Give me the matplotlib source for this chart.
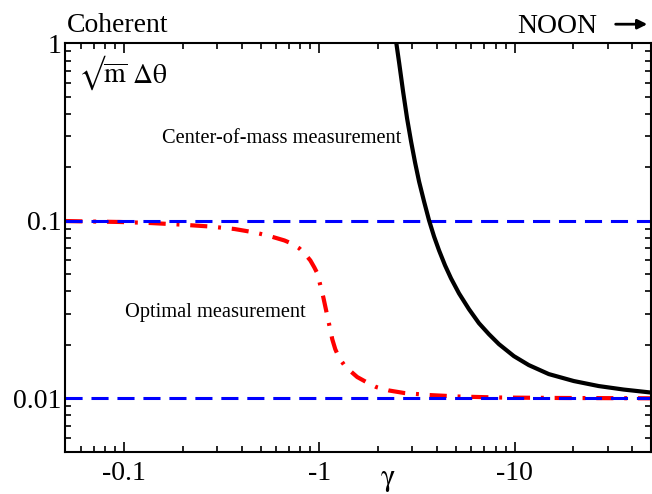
import matplotlib
matplotlib.use("Agg")
import matplotlib.pyplot as plt
from matplotlib.ticker import LogLocator, FixedLocator, FixedFormatter, NullFormatter

plt.rcParams["font.family"] = ["Liberation Serif", "DejaVu Serif"]
plt.rcParams["mathtext.fontset"] = "stix"

# -gamma on the x axis (log), sqrt(m) dtheta on the y axis (log)
com_gamma = [2.446, 2.475, 2.564, 2.687, 2.817, 2.952, 3.094, 3.243, 3.440, 3.649,
             3.869, 4.104, 4.404, 4.726, 5.193, 5.842, 6.571, 7.391, 8.315, 9.918,
             11.83, 14.97, 20.09, 26.97, 36.19, 49.73]
com_val = [1.113, 1.017, 0.775, 0.5325, 0.3756, 0.2790, 0.2126, 0.1663, 0.1283, 0.1004,
           0.0816, 0.0681, 0.0561, 0.0474, 0.0390, 0.03176, 0.02649, 0.02297, 0.02019, 0.01728,
           0.01538, 0.01369, 0.01251, 0.01172, 0.01120, 0.01078]

opt_gamma = [0.05, 0.0668, 0.0951, 0.1353, 0.1926, 0.2741, 0.3678, 0.4655, 0.5554, 0.6625,
             0.7193, 0.7903, 0.8480, 0.8995, 0.9429, 0.9767, 1.012, 1.048, 1.086, 1.125,
             1.165, 1.207, 1.265, 1.342, 1.423, 1.564, 1.739, 1.956, 2.279, 2.719,
             3.649, 5.193, 8.315, 16.84, 50.0]
opt_val = [0.0997, 0.0991, 0.0985, 0.0972, 0.0953, 0.0929, 0.0899, 0.0860, 0.0821, 0.0775,
           0.0746, 0.0699, 0.0647, 0.0598, 0.0546, 0.0506, 0.0433, 0.0371, 0.0309, 0.0258,
           0.0215, 0.0189, 0.01684, 0.01538, 0.01442, 0.01317, 0.01235, 0.01157, 0.01106, 0.01071,
           0.01043, 0.01023, 0.01010, 0.01004, 0.0100]

limits = [0.1, 0.01]  # coherent / NOON levels

x_ticks = [0.1, 1, 10]
x_labels = ["-0.1", "-1", "-10"]
y_ticks = [0.01, 0.1, 1]
y_labels = ["0.01", "0.1", "1"]

fig = plt.figure(figsize=(6.52, 4.94), dpi=100)
ax = fig.add_axes([0.1002, 0.0856, 0.8983, 0.8267])

ax.plot(opt_gamma, opt_val, color="red", lw=3.0, linestyle=(0, (4.1, 2.6, 0.7, 2.6)))
for lv in limits:
    ax.axhline(lv, color="blue", lw=2.2, linestyle=(0, (5.6, 2.9)))
ax.plot(com_gamma, com_val, color="black", lw=3.0, solid_joinstyle="round")

ax.set_xscale("log")
ax.set_yscale("log")
ax.set_xlim(0.05, 50)
ax.set_ylim(0.005, 1)

ax.xaxis.set_major_locator(FixedLocator(x_ticks))
ax.xaxis.set_major_formatter(FixedFormatter(x_labels))
ax.yaxis.set_major_locator(FixedLocator(y_ticks))
ax.yaxis.set_major_formatter(FixedFormatter(y_labels))
for a in (ax.xaxis, ax.yaxis):
    a.set_minor_locator(LogLocator(base=10, subs=range(2, 10), numticks=20))
    a.set_minor_formatter(NullFormatter())

ax.tick_params(which="both", direction="in", top=True, right=True, labelsize=20, width=1.2)
ax.tick_params(which="major", length=7.5)
ax.tick_params(axis="x", which="major", pad=7)
ax.tick_params(axis="y", which="major", pad=3)
ax.tick_params(which="minor", length=4)
for s in ax.spines.values():
    s.set_linewidth(1.5)

ax.text(0.0217, 0.9035, "$\u221a\\overline{\\mathrm{m}}\\ \\Delta\\mathrm{\\theta}$",
        transform=ax.transAxes, fontsize=20, va="baseline")
ax.text(0.165, 0.756, "Center-of-mass measurement", transform=ax.transAxes,
        fontsize=14.7, va="baseline")
ax.text(0.102, 0.330, "Optimal measurement", transform=ax.transAxes,
        fontsize=14.7, va="baseline")

fig.text(0.103, 0.935, "Coherent", fontsize=20, va="baseline")
fig.text(0.793, 0.933, "NOON", fontsize=20, va="baseline")
# arrow next to NOON
ax.annotate("", xy=(0.997, 0.951), xycoords="figure fraction",
            xytext=(0.940, 0.951), textcoords="figure fraction",
            arrowprops=dict(arrowstyle="-|>", color="black", lw=2, mutation_scale=14))
fig.text(388 / 652, 0.018, r"$\mathrm{\gamma}$", fontsize=22, ha="center", va="baseline")

fig.savefig("out.png", dpi=100)
